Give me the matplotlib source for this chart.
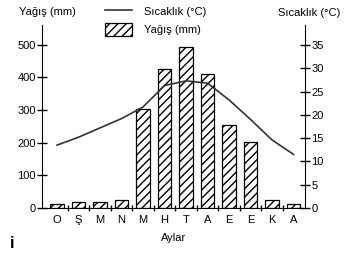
import numpy as np
import matplotlib.pyplot as plt

plt.rcParams['font.family'] = ['Liberation Sans', 'DejaVu Sans']

# Veriler
aylar = ["O", "Ş", "M", "N", "M", "H", "T", "A", "E", "E", "K", "A"]
yagis = [12, 17, 17, 25, 303, 426, 493, 410, 255, 203, 25, 12]          # mm
sicaklik = [13.5, 15.2, 17.2, 19.2, 21.7, 26.3, 27.3, 26.8, 23.2, 19.0, 14.6, 11.5]  # °C

x = np.arange(len(aylar))
fs = 8

fig = plt.figure(figsize=(3.47, 2.56), dpi=100)
ax = fig.add_axes([0.121, 0.1875, 0.758, 0.715])
ax2 = ax.twinx()

bars = ax.bar(x, yagis, width=0.62, color="white", edgecolor="black",
              hatch="////", linewidth=0.9, label="Yağış (mm)", zorder=2)
line, = ax2.plot(x, sicaklik, color="#333333", linewidth=1.2, label="Sıcaklık (°C)")

ax.set_xlim(-0.7, 11.53)
ax.set_ylim(0, 561)
ax2.set_ylim(0, 39.3)

ax.set_yticks([0, 100, 200, 300, 400, 500])
ax2.set_yticks([0, 5, 10, 15, 20, 25, 30, 35])
ax.set_xticks(x)
ax.set_xticklabels(aylar)
ax.set_xticks(x[:-1] + 0.5, minor=True)

for a in (ax, ax2):
    a.spines["top"].set_visible(False)
ax.spines["right"].set_visible(False)
ax2.spines["left"].set_visible(False)
ax2.spines["bottom"].set_visible(False)

ax.tick_params(axis="y", direction="inout", length=7, width=1, labelsize=fs, pad=1)
ax2.tick_params(axis="y", direction="inout", length=7, width=1, labelsize=fs, pad=1)
ax.tick_params(axis="x", which="major", length=0, labelsize=fs, pad=5)
ax.tick_params(axis="x", which="minor", direction="inout", length=4, width=1)

ax.set_xlabel("Aylar", fontsize=fs, labelpad=6)

fig.text(0.138, 0.953, "Yağış (mm)", fontsize=fs, ha="center", va="center")
fig.text(0.89, 0.949, "Sıcaklık (°C)", fontsize=fs, ha="center", va="center")
fig.text(0.035, 0.05, "i", fontsize=12, fontweight="bold", ha="center", va="center")

fig.legend([line, bars], ["Sıcaklık (°C)", "Yağış (mm)"], loc="upper left",
           bbox_to_anchor=(0.275, 1.02), frameon=False, fontsize=fs,
           handlelength=2.4, handleheight=1.4, handletextpad=1.1,
           labelspacing=0.5)

fig.savefig("out.png", dpi=100)
